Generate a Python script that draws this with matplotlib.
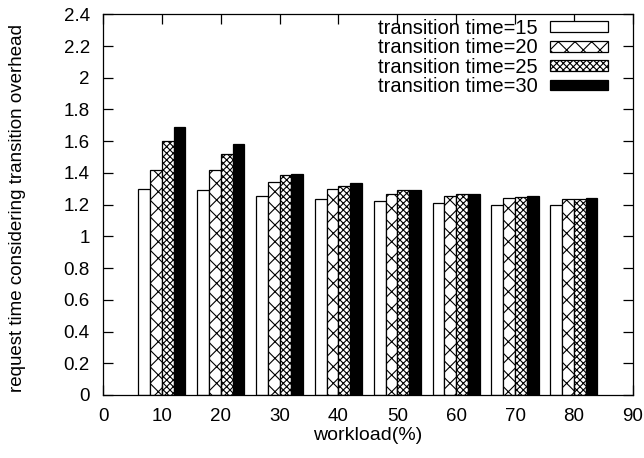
import numpy as np
import matplotlib
matplotlib.use('Agg')
import matplotlib.pyplot as plt

plt.rcParams['font.family'] = ['Liberation Sans', 'DejaVu Sans']
plt.rcParams['hatch.linewidth'] = 0.8

# workload levels and request time for each transition time
workload = [10, 20, 30, 40, 50, 60, 70, 80]
series_names = ['transition time=15', 'transition time=20',
                'transition time=25', 'transition time=30']
t15 = [1.30, 1.29, 1.255, 1.235, 1.22, 1.21, 1.20, 1.20]
t20 = [1.42, 1.42, 1.34, 1.30, 1.27, 1.255, 1.24, 1.235]
t25 = [1.60, 1.52, 1.385, 1.32, 1.29, 1.265, 1.25, 1.235]
t30 = [1.69, 1.58, 1.39, 1.335, 1.29, 1.265, 1.255, 1.24]

series = [t15, t20, t25, t30]
faces = ['white', 'white', 'white', 'black']
hatches = [None, 'xx', 'xxxxx', None]
barW = 2.0

fig = plt.figure(figsize=(6.44, 4.58), dpi=100)
ax = fig.add_axes([0.160, 0.1376, 0.8225, 0.8312])

x = np.array(workload, dtype=float)
for i, vals in enumerate(series):
    ax.bar(x + (i - 1.5) * barW, vals, width=barW, color=faces[i],
           edgecolor='black', linewidth=0.9, hatch=hatches[i],
           label=series_names[i])

ax.set_xlim(0, 90)
ax.set_ylim(0, 2.4)
ax.set_xticks(np.arange(0, 91, 10))
ax.set_yticks(np.arange(0, 2.41, 0.2))
ax.set_yticklabels(['0', '0.2', '0.4', '0.6', '0.8', '1', '1.2', '1.4',
                    '1.6', '1.8', '2', '2.2', '2.4'])
ax.tick_params(direction='in', length=7, width=0.9, labelsize=13.5,
               top=True, right=True, pad=9.5)
for s in ax.spines.values():
    s.set_linewidth(0.9)

ax.set_xlabel('workload(%)', fontsize=14)
ax.xaxis.set_label_coords(0.5, -0.085)
ax.set_ylabel('request time considering transition overhead', fontsize=13.5)
ax.yaxis.set_label_coords(-0.146, 0.49)

ax.legend(loc='upper right', bbox_to_anchor=(608 / 644, (458 - 19) / 458),
          bbox_transform=fig.transFigure, frameon=False, markerfirst=False,
          fontsize=14.5, handlelength=2.9, handleheight=0.45,
          handletextpad=0.6, labelspacing=0.02, borderpad=0,
          borderaxespad=0)

fig.savefig('out.png', dpi=100)
